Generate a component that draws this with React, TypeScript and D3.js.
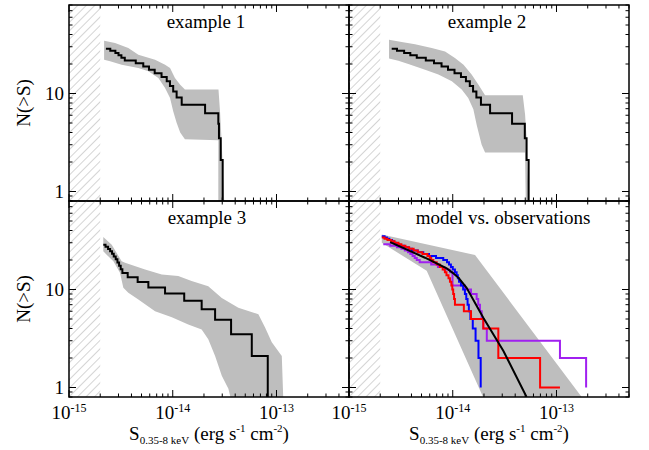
import React from "react";
import * as d3 from "d3";

type Pt = [number, number];

// flux in units of 1e-15 erg s^-1 cm^-2, counts N(>S)
const fluxTickLabels = ["-15", "-14", "-13"];
const panelTitles = ["example 1", "example 2", "example 3", "model vs. observations"];
const axisTitleY = "N(>S)";

// example 1
const ex1Line: Pt[] = [
  [2.27, 28.7], [2.5, 27.3], [2.8, 25.9], [3.0, 24.5], [3.2, 23.1], [3.45, 21.7], [4.4, 20.3],
  [5.2, 18.9], [5.9, 17.5], [6.7, 16.1], [7.8, 14.7], [8.75, 13.3], [9.4, 11.9], [10.1, 10.5],
  [10.9, 9.1], [12.2, 7.7], [20.5, 6.3], [27.5, 4.9], [27.9, 3.5], [29.0, 2.1], [30.3, 0.7],
];
const ex1Upper: Pt[] = [
  [2.18, 34.5], [2.78, 32.7], [3.73, 29.1], [4.66, 24.9], [6.75, 22.1], [8.43, 19.7], [9.42, 18.2],
  [10.5, 14.4], [11.8, 12.3], [13.1, 11.0], [27.6, 11.0], [28.6, 6.4], [29.7, 3.0], [30.6, 1.4], [31.5, 0.7],
];
const ex1Lower: Pt[] = [
  [2.18, 22.1], [2.49, 21.3], [3.22, 19.7], [4.66, 18.2], [5.82, 16.9], [7.27, 14.4], [8.43, 11.4],
  [9.42, 9.0], [10.1, 6.6], [10.9, 5.04], [11.8, 3.99], [13.1, 3.41], [27.5, 3.33], [27.5, 0.7],
];

// example 2
const ex2Line: Pt[] = [
  [2.58, 28.7], [2.9, 27.3], [3.4, 25.9], [3.9, 24.5], [4.5, 23.1], [5.5, 21.7], [6.6, 20.3],
  [7.8, 18.9], [9.0, 17.5], [10.4, 16.1], [12.0, 14.7], [13.4, 13.3], [14.6, 11.9], [15.7, 10.5],
  [16.9, 9.1], [18.7, 7.7], [22.9, 6.3], [37.3, 4.9], [49.5, 3.5], [51.5, 2.1], [53.9, 0.7],
];
const ex2Upper: Pt[] = [
  [2.43, 35.3], [3.22, 33.5], [4.33, 31.9], [6.27, 29.1], [8.43, 26.9], [10.5, 23.0], [12.7, 19.7],
  [15.2, 15.6], [17.7, 12.3], [20.5, 9.6], [47.3, 9.6], [49.8, 6.1], [51.7, 3.3], [52.8, 1.5], [54.4, 0.7],
];
const ex2Lower: Pt[] = [
  [2.43, 22.7], [2.99, 21.6], [3.73, 20.0], [5.41, 17.5], [7.27, 15.6], [9.8, 13.3], [12.2, 11.0],
  [14.1, 9.0], [15.8, 6.9], [17.0, 4.8], [19.0, 3.0], [20.5, 2.5], [49.8, 2.5], [50.6, 0.7],
];

// example 3
const ex3Line: Pt[] = [
  [2.14, 28.7], [2.25, 27.3], [2.38, 25.9], [2.49, 24.5], [2.6, 23.1], [2.7, 21.7], [2.82, 20.3],
  [2.93, 18.9], [3.04, 17.5], [3.15, 16.1], [3.27, 14.7], [3.68, 13.3], [4.59, 11.9], [5.82, 10.5],
  [8.43, 9.1], [12.9, 7.7], [19.0, 6.3], [25.6, 4.9], [36.5, 3.5], [57.8, 2.1], [82.4, 0.7],
];
const ex3Upper: Pt[] = [
  [2.14, 34.3], [2.58, 28.6], [3.22, 19.4], [3.47, 18.7], [5.41, 16.0], [7.83, 14.2], [11.3, 13.7],
  [15.2, 12.2], [22.0, 10.8], [29.7, 8.2], [42.9, 6.5], [66.9, 5.6], [77.6, 4.1], [90.1, 2.9],
  [112.5, 2.1], [116.6, 0.7],
];
const ex3Lower: Pt[] = [
  [2.14, 24.5], [2.39, 21.8], [2.68, 19.4], [3.1, 14.8], [3.34, 10.4], [3.73, 9.25], [4.66, 7.9],
  [6.75, 6.0], [9.8, 5.2], [14.1, 4.4], [19.0, 3.9], [22.0, 3.1], [25.6, 2.1], [29.7, 1.32],
  [34.4, 0.97], [37.1, 0.7],
];

// model vs. observations
const modelUpper: Pt[] = [[2.07, 36.4], [16.4, 22.5], [175, 0.8]];
const modelLower: Pt[] = [[2.07, 30.0], [5.61, 15.5], [19.6, 0.8]];
const modelLine: Pt[] = [
  [2.49, 30.5], [5.4, 21.1], [8.75, 16.4], [10.0, 14.8], [11.5, 13.0], [13.6, 10.4],
  [19.7, 5.16], [30.8, 2.36], [51.5, 0.8],
];
const obsBlue: Pt[] = [
  [2.07, 35], [2.2, 34], [2.32, 33], [2.45, 32], [2.6, 31], [2.72, 30], [2.84, 29], [3.05, 28],
  [3.4, 27], [3.75, 26], [4.05, 25], [4.6, 24], [5.2, 23], [5.9, 22], [6.9, 21], [8.1, 20],
  [8.8, 19], [9.2, 18], [9.6, 17], [10.0, 16], [10.5, 15], [10.9, 14], [11.2, 13], [11.5, 12],
  [12.0, 11], [12.6, 10], [13.1, 9], [13.5, 8], [13.9, 7], [14.3, 6], [14.8, 5], [15.6, 4],
  [16.6, 3], [17.7, 2], [18.6, 1],
];
const obsRed: Pt[] = [
  [2.07, 34], [2.2, 33], [2.35, 32], [2.55, 31], [2.75, 30], [3.0, 29], [3.2, 28], [3.5, 27],
  [3.8, 26], [4.2, 25], [4.6, 24], [5.1, 23], [5.7, 22], [6.0, 21], [6.2, 20], [6.5, 19],
  [7.0, 18], [7.5, 17], [8.0, 16], [8.4, 15], [8.7, 14], [9.1, 13], [9.4, 12], [9.7, 11],
  [9.9, 10], [10.1, 9], [10.3, 8], [10.5, 7], [12.8, 6], [15.0, 5], [19.7, 4], [27.5, 2],
  [69.5, 1], [108, 1],
];
const obsPurple: Pt[] = [
  [2.14, 29], [2.5, 28], [2.9, 27], [3.2, 26], [3.45, 25], [3.7, 24], [3.9, 23], [4.1, 22],
  [4.3, 21], [4.5, 20], [4.8, 19], [6.2, 18], [7.2, 17], [8.3, 16], [9.4, 15], [9.95, 11],
  [13.1, 10], [15.0, 9], [17.0, 8], [17.6, 7], [18.3, 6], [19.0, 5], [19.7, 4], [21.3, 3],
  [108, 2], [193, 1],
];

const W = 649;
const H = 450;
const LEFT = 69;
const TOP = 5;
const PW = 280;
const PH = 196;
const FONT = "'Liberation Serif', 'Times New Roman', serif";
const BAND = "#bebebe";

type Series = { pts: Pt[]; color: string; step: boolean };
type Panel = { col: number; row: number; title: string; titleDx: number; bands: Pt[][][]; series: Series[] };

const panels: Panel[] = [
  { col: 0, row: 0, title: panelTitles[0], titleDx: -3, bands: [[ex1Upper, ex1Lower]], series: [{ pts: ex1Line, color: "#000", step: true }] },
  { col: 1, row: 0, title: panelTitles[1], titleDx: -2, bands: [[ex2Upper, ex2Lower]], series: [{ pts: ex2Line, color: "#000", step: true }] },
  { col: 0, row: 1, title: panelTitles[2], titleDx: -2, bands: [[ex3Upper, ex3Lower]], series: [{ pts: ex3Line, color: "#000", step: true }] },
  {
    col: 1, row: 1, title: panelTitles[3], titleDx: 14, bands: [[modelUpper, modelLower]],
    series: [
      { pts: obsPurple, color: "#a020f0", step: true },
      { pts: obsBlue, color: "#0000ff", step: true },
      { pts: obsRed, color: "#ff0000", step: true },
      { pts: modelLine, color: "#000", step: false },
    ],
  },
];

const isDecade = (t: number) => Math.abs(Math.log10(t) - Math.round(Math.log10(t))) < 1e-9;

export default function App() {
  const x = d3.scaleLog().domain([1, 500]).range([0, PW]);
  const y = d3.scaleLog().domain([0.8, 80]).range([PH, 0]);
  const stepLine = d3.line<Pt>().x((d) => x(d[0])).y((d) => y(d[1])).curve(d3.curveStepAfter);
  const polyLine = d3.line<Pt>().x((d) => x(d[0])).y((d) => y(d[1]));
  const xTicks = x.ticks();
  const yTicks = y.ticks();
  const xMajor = xTicks.filter(isDecade);
  const yMajor = yTicks.filter(isDecade);

  return (
    <svg width={W} height={H} style={{ position: "absolute", left: 0, top: 0, background: "#fff" }} fontFamily={FONT}>
      <defs>
        <clipPath id="plotClip">
          <rect x={0} y={0} width={PW} height={PH} />
        </clipPath>
        <pattern id="hatch" patternUnits="userSpaceOnUse" width={6} height={6} patternTransform="rotate(45)">
          <line x1={0} y1={0} x2={0} y2={6} stroke="#b0b0b0" strokeWidth={1.1} />
        </pattern>
      </defs>
      {panels.map((p, i) => {
        const ox = LEFT + p.col * PW;
        const oy = TOP + p.row * PH;
        return (
          <g key={i} transform={`translate(${ox},${oy})`}>
            <g clipPath="url(#plotClip)">
              <rect x={x(1)} y={0} width={x(2) - x(1)} height={PH} fill="url(#hatch)" />
              {p.bands.map((b, j) => (
                <path key={j} d={polyLine([...b[0], ...b[1].slice().reverse()]) + "Z"} fill={BAND} stroke="none" />
              ))}
              {p.series.map((s, j) => (
                <path
                  key={j}
                  d={(s.step ? stepLine : polyLine)(s.pts) || ""}
                  fill="none"
                  stroke={s.color}
                  strokeWidth={2}
                  strokeLinejoin="miter"
                />
              ))}
            </g>
            {/* ticks on all four sides */}
            {xTicks.map((t, j) => {
              const len = isDecade(t) ? 7 : 3.5;
              const tx = x(t);
              return (
                <g key={"xt" + j} stroke="#000" strokeWidth={1}>
                  <line x1={tx} x2={tx} y1={PH} y2={PH - len} />
                  <line x1={tx} x2={tx} y1={0} y2={len} />
                </g>
              );
            })}
            {yTicks.map((t, j) => {
              const len = isDecade(t) ? 7 : 3.5;
              const ty = y(t);
              return (
                <g key={"yt" + j} stroke="#000" strokeWidth={1}>
                  <line x1={0} x2={len} y1={ty} y2={ty} />
                  <line x1={PW} x2={PW - len} y1={ty} y2={ty} />
                </g>
              );
            })}
            <rect x={0} y={0} width={PW} height={PH} fill="none" stroke="#000" strokeWidth={1.5} />
            <text x={PW / 2 + p.titleDx} y={23} textAnchor="middle" fontSize={19} fill="#000">
              {p.title}
            </text>
            {p.col === 0 &&
              yMajor.map((t, j) => (
                <text key={"yl" + j} x={-5} y={y(t) + 6} textAnchor="end" fontSize={19} fill="#000">
                  {d3.format("d")(t)}
                </text>
              ))}
            {p.col === 0 && (
              <text transform={`translate(-39,${PH / 2}) rotate(-90)`} textAnchor="middle" fontSize={19} fill="#000">
                {axisTitleY}
              </text>
            )}
            {p.row === 1 &&
              xMajor.map((t, j) => (
                <text key={"xl" + j} x={x(t)} y={PH + 22} textAnchor="middle" fontSize={19} fill="#000">
                  10<tspan dy={-7} fontSize={12}>{fluxTickLabels[j]}</tspan>
                </text>
              ))}
            {p.row === 1 && (
              <text x={PW / 2} y={PH + 43} textAnchor="middle" fontSize={19} fill="#000">
                S<tspan dy={4} fontSize={11}>0.35-8 keV</tspan>
                <tspan dy={-4}> (erg s</tspan>
                <tspan dy={-8} fontSize={11}>-1</tspan>
                <tspan dy={8}> cm</tspan>
                <tspan dy={-8} fontSize={11}>-2</tspan>
                <tspan dy={8}>)</tspan>
              </text>
            )}
          </g>
        );
      })}
    </svg>
  );
}
